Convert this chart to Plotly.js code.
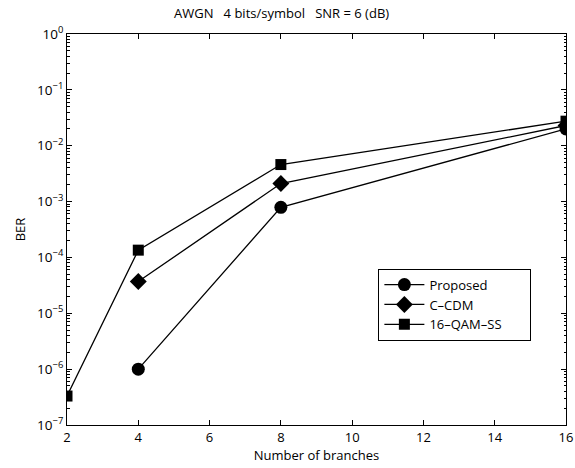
<!DOCTYPE html>
<html>
<head>
<meta charset="utf-8">
<script src="https://cdn.plot.ly/plotly-3.0.1.min.js"></script>
<style>
  html, body { margin: 0; padding: 0; background: #fff; }
  #chart { width: 575px; height: 468px; }
</style>
</head>
<body>
<div id="chart"></div>
<script>
// Number of branches on the x axis
const branches = [2, 4, 8, 16];

// BER values per scheme (null where a scheme has no result)
const berProposed = [null, 1.0e-6, 7.9e-4, 2.0e-2];
const berCCDM     = [null, 3.7e-5, 2.1e-3, 2.3e-2];
const berQAMSS    = [3.3e-7, 1.35e-4, 4.6e-3, 2.75e-2];

const seriesNames = ['Proposed', 'C\u2013CDM', '16\u2013QAM\u2013SS'];

// Decade ticks with power-of-ten labels
const decadeExps = [0, -1, -2, -3, -4, -5, -6, -7];
const xTicks = [2, 4, 6, 8, 10, 12, 14, 16];

const yTickVals = decadeExps.map(e => Math.pow(10, e));
const yTickText = decadeExps.map(e => '10<sup>' + (e < 0 ? '\u2212' + (-e) : e) + '</sup>');
const yMinor = [];
decadeExps.slice(1).forEach(e => {
  for (let m = 2; m <= 9; m++) yMinor.push(m * Math.pow(10, e));
});

const font = { family: 'Open Sans, Liberation Sans, sans-serif', color: '#000' };

// trailing padding keeps the legend box roomy on the right
const legendPad = '\u00a0'.repeat(7);

function trace(y, name, symbol, size) {
  return {
    x: branches, y: y, name: name + legendPad, type: 'scatter', mode: 'lines+markers',
    connectgaps: false,
    line: { color: '#000', width: 1.3 },
    marker: { symbol: symbol, size: size, color: '#000' }
  };
}

const data = [
  trace(berProposed, seriesNames[0], 'circle', 13),
  trace(berCCDM, seriesNames[1], 'diamond', 13),
  trace(berQAMSS, seriesNames[2], 'square', 11)
];

const layout = {
  width: 575, height: 468,
  margin: { l: 67, r: 9, t: 34, b: 43 },
  paper_bgcolor: '#fff', plot_bgcolor: '#fff',
  font: Object.assign({ size: 13 }, font),
  showlegend: true,
  title: {
    text: 'AWGN &nbsp;&nbsp;4 bits/symbol &nbsp;&nbsp;SNR = 6 (dB)',
    font: Object.assign({ size: 13 }, font),
    xref: 'paper', x: 0.43, xanchor: 'center', y: 0.972, yanchor: 'middle'
  },
  xaxis: {
    range: [2, 16], tickvals: xTicks, ticktext: xTicks.map(String),
    ticks: 'inside', ticklen: 5, tickcolor: '#000',
    showline: true, linecolor: '#000', linewidth: 1, mirror: 'ticks',
    showgrid: false, zeroline: false,
    tickfont: Object.assign({ size: 13 }, font),
    title: { text: 'Number of branches', font: Object.assign({ size: 13 }, font), standoff: 2 }
  },
  yaxis: {
    type: 'log', range: [-7, 0],
    tickvals: yTickVals, ticktext: yTickText,
    ticks: 'inside', ticklen: 5, tickcolor: '#000',
    minor: { tickvals: yMinor, ticks: 'inside', ticklen: 2.5, tickcolor: '#000', showgrid: false },
    showline: true, linecolor: '#000', linewidth: 1, mirror: 'ticks',
    showgrid: false, zeroline: false,
    tickfont: Object.assign({ size: 13.5 }, font),
    title: { text: 'BER', font: Object.assign({ size: 13 }, font), standoff: 8 }
  },
  legend: {
    x: 0.624, y: 0.40, xanchor: 'left', yanchor: 'top',
    bgcolor: '#fff', bordercolor: '#000', borderwidth: 1,
    font: Object.assign({ size: 13 }, font),
    itemwidth: 40, tracegroupgap: 0
  }
};

Plotly.newPlot('chart', data, layout, { displayModeBar: false, staticPlot: true });
</script>
</body>
</html>
